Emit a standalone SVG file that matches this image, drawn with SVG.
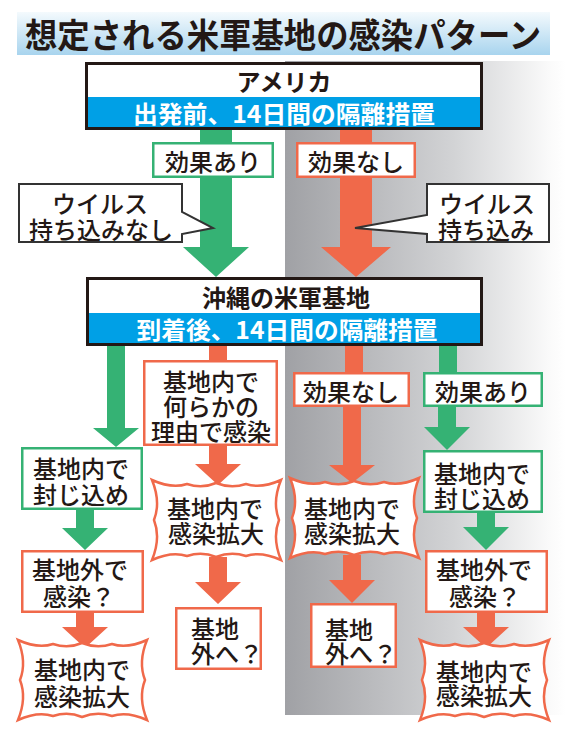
<svg xmlns="http://www.w3.org/2000/svg" width="566" height="734" viewBox="0 0 566 734">
<defs>
<linearGradient id="grayGrad" x1="0" y1="0" x2="1" y2="0">
<stop offset="0" stop-color="#a0a1a5"/>
<stop offset="0.6" stop-color="#d2d3d5"/>
<stop offset="0.95" stop-color="#fbfbfb"/>
<stop offset="1" stop-color="#ffffff"/>
</linearGradient>
<linearGradient id="titleGrad" x1="0" y1="0" x2="0" y2="1">
<stop offset="0" stop-color="#f4fafd"/>
<stop offset="1" stop-color="#a8d4ee"/>
</linearGradient>
<path id="burst" d="M -6,-6 Q 14,3 29,-2 Q 44,3 58,-3 Q 73,3 88,-2 Q 103,3 123,-6 Q 114,16 121,34 Q 114,52 123,74 Q 103,65 88,70 Q 73,65 58,71 Q 44,65 29,70 Q 14,65 -6,74 Q 3,52 -4,34 Q 3,16 -6,-6 Z"/>
</defs>
<style>
text{font-family:"Noto Sans CJK JP","Noto Sans CJK SC",sans-serif;fill:#231815;text-anchor:middle;dominant-baseline:central}
.t{font-size:24px;font-weight:500}
.b{font-weight:bold}
.w{fill:#ffffff}
.l{text-anchor:start}
.gbox{fill:#ffffff;stroke:#35b274;stroke-width:2.5}
.obox{fill:#ffffff;stroke:#f0694a;stroke-width:2.5}
.hdr{fill:#ffffff;stroke:#231815;stroke-width:3}
.band{fill:#00a0e6}
.call{fill:#ffffff;stroke:#333333;stroke-width:2}
.ga{fill:#35b274}
.oa{fill:#f0694a}
.burst{fill:#ffffff;stroke:#f0694a;stroke-width:2.5}
</style>

<rect id="gray-panel" x="285" y="61" width="281" height="654" fill="url(#grayGrad)"/>

<g id="title">
<rect x="17" y="12" width="533" height="43" fill="url(#titleGrad)"/>
<text x="283" y="33" class="b" style="font-size:34px" textLength="516" lengthAdjust="spacingAndGlyphs">想定される米軍基地の感染パターン</text>
</g>

<g id="connectors">
<polygon class="ga" points="200,130 232,130 232,247 249,247 216,277 183,247 200,247"/>
<polygon class="oa" points="340,130 372,130 372,247 391,247 356,277 321,247 340,247"/>
<polygon class="ga" points="107,346 125,346 125,428 139,428 116,447 93,428 107,428"/>
<polygon class="ga" points="76,510 94,510 94,528 108,528 85,550 62,528 76,528"/>
<polygon class="oa" points="76,613 94,613 94,627 108,627 85,648 62,627 76,627"/>
<polygon class="oa" points="209,346 227,346 227,361 209,361"/>
<polygon class="oa" points="209,446 227,446 227,464 241,464 218,485 195,464 209,464"/>
<polygon class="oa" points="209,557 227,557 227,582 241,582 218,604 195,582 209,582"/>
<polygon class="oa" points="345,346 363,346 363,373 345,373"/>
<polygon class="oa" points="343,407 361,407 361,465 375,465 352,483 329,465 343,465"/>
<polygon class="oa" points="343,555 361,555 361,580 375,580 352,603 329,580 343,580"/>
<polygon class="ga" points="439,346 457,346 457,373 439,373"/>
<polygon class="ga" points="438,407 456,407 456,427 470,427 447,450 424,427 438,427"/>
<polygon class="ga" points="477,513 495,513 495,527 509,527 486,550 463,527 477,527"/>
<polygon class="oa" points="477,613 495,613 495,627 509,627 486,648 463,627 477,627"/>
</g>

<g id="america">
<rect class="hdr" x="86.5" y="63.5" width="395" height="65"/>
<rect class="band" x="88" y="97" width="392" height="30"/>
<text x="284" y="80" class="t b">アメリカ</text>
<text x="284" y="112" class="t b w" textLength="302" lengthAdjust="spacingAndGlyphs">出発前、14日間の隔離措置</text>
</g>

<g id="top-effective">
<rect class="gbox" x="153.25" y="143.25" width="119.5" height="33.5"/>
<text x="213" y="160" class="t">効果あり</text>
</g>
<g id="top-ineffective">
<rect class="obox" x="297.25" y="143.25" width="117.5" height="33.5"/>
<text x="356" y="160" class="t">効果なし</text>
</g>

<g id="callout-left">
<path class="call" d="M19,184 H182 V212 L213,228 L182,234 V242 H19 Z"/>
<text class="t"><tspan x="100" y="202">ウイルス</tspan><tspan x="101" y="228">持ち込みなし</tspan></text>
</g>
<g id="callout-right">
<path class="call" d="M427,184 H549 V242 H427 V234 L355,228 L427,215 Z"/>
<text class="t"><tspan x="487" y="202">ウイルス</tspan><tspan x="486" y="228">持ち込み</tspan></text>
</g>

<g id="okinawa">
<rect class="hdr" x="87.5" y="278.5" width="394" height="66"/>
<rect class="band" x="89" y="313" width="391" height="30"/>
<text x="286" y="296" class="t b">沖縄の米軍基地</text>
<text x="287" y="328" class="t b w" textLength="301" lengthAdjust="spacingAndGlyphs">到着後、14日間の隔離措置</text>
</g>

<g id="col1-contain">
<rect class="gbox" x="22.25" y="448.25" width="119.5" height="60.5"/>
<text class="t"><tspan x="81" y="467">基地内で</tspan><tspan x="81" y="493">封じ込め</tspan></text>
</g>
<g id="col1-outside">
<rect class="obox" x="22.25" y="551.25" width="120.5" height="60.5"/>
<text class="t"><tspan x="80" y="568">基地外で</tspan><tspan x="79" y="595">感染？</tspan></text>
</g>
<g id="col1-spread">
<use href="#burst" class="burst" transform="translate(24,646)"/>
<text class="t"><tspan x="82" y="668">基地内で</tspan><tspan x="82" y="695">感染拡大</tspan></text>
</g>

<g id="col2-infect">
<rect class="obox" x="144.25" y="361.25" width="132.5" height="83.5"/>
<text class="t"><tspan x="211" y="380">基地内で</tspan><tspan x="211" y="405">何らかの</tspan><tspan x="211" y="430">理由で感染</tspan></text>
</g>
<g id="col2-spread">
<use href="#burst" class="burst" transform="translate(158,486)"/>
<text class="t"><tspan x="215" y="507">基地内で</tspan><tspan x="216" y="532">感染拡大</tspan></text>
</g>
<g id="col2-out">
<rect class="obox" x="176.25" y="608.25" width="84.5" height="60.5"/>
<text class="t l"><tspan x="191" y="627">基地</tspan><tspan x="191" y="652">外へ？</tspan></text>
</g>

<g id="col3-ineffective">
<rect class="obox" x="294.25" y="373.25" width="114.5" height="32.5"/>
<text x="351" y="390" class="t">効果なし</text>
</g>
<g id="col3-spread">
<use href="#burst" class="burst" transform="translate(296,484)"/>
<text class="t"><tspan x="352" y="507">基地内で</tspan><tspan x="352" y="532">感染拡大</tspan></text>
</g>
<g id="col3-out">
<rect class="obox" x="311.25" y="604.25" width="84.5" height="62.5"/>
<text class="t l"><tspan x="325" y="628">基地</tspan><tspan x="325" y="652">外へ？</tspan></text>
</g>

<g id="col4-effective">
<rect class="gbox" x="424.25" y="373.25" width="117.5" height="32.5"/>
<text x="483" y="390" class="t">効果あり</text>
</g>
<g id="col4-contain">
<rect class="gbox" x="424.25" y="451.25" width="117.5" height="60.5"/>
<text class="t"><tspan x="482" y="472">基地内で</tspan><tspan x="482" y="497">封じ込め</tspan></text>
</g>
<g id="col4-outside">
<rect class="obox" x="426.25" y="551.25" width="120.5" height="60.5"/>
<text class="t"><tspan x="484" y="568">基地外で</tspan><tspan x="485" y="595">感染？</tspan></text>
</g>
<g id="col4-spread">
<use href="#burst" class="burst" transform="translate(426,646)"/>
<text class="t"><tspan x="484" y="670">基地内で</tspan><tspan x="484" y="694">感染拡大</tspan></text>
</g>
</svg>
